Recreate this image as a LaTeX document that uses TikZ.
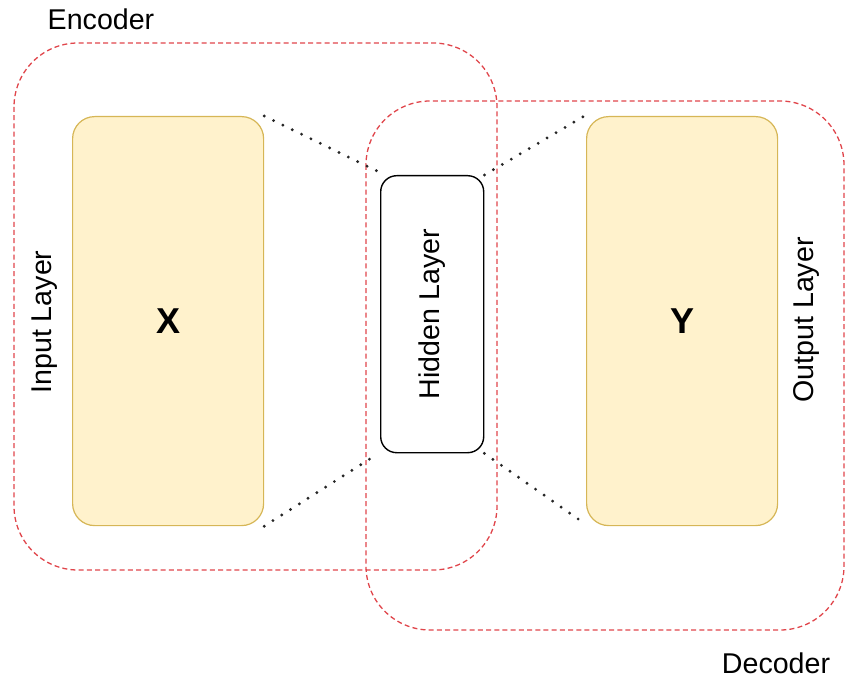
\documentclass[tikz,border=0pt]{standalone}
\usepackage{fontspec}
\setmainfont{Liberation Sans}
\begin{document}
\begin{tikzpicture}[x=0.5pt,y=-0.5pt,
  grp/.style={draw=grpred, line width=0.65pt, dash pattern=on 2.5pt off 1.6pt, rounded corners=32pt},
  layerbox/.style={draw=ystroke, fill=yfill, line width=0.6pt, rounded corners=11pt},
  hidbox/.style={draw=black, fill=white, line width=0.7pt, rounded corners=8pt},
  dotline/.style={draw=black!85, line width=1.6pt, line cap=round, dash pattern=on 0pt off 5.2pt},
  lbl/.style={font=\fontsize{14.3}{17}\selectfont, inner sep=0pt},
  big/.style={font=\fontsize{18}{21}\selectfont\bfseries, inner sep=0pt}]
\definecolor{grpred}{HTML}{E0454B}
\definecolor{yfill}{HTML}{FFF2CC}
\definecolor{ystroke}{HTML}{D6B656}
\useasboundingbox (0,0) rectangle (845,679);
% groups
\draw[grp] (14,43) rectangle (497,570);
\draw[grp] (366,101) rectangle (844,630);
% boxes
\node[layerbox, minimum width=95.5pt, minimum height=204.5pt, anchor=north west] (X) at (72,116) {};
\node[layerbox, minimum width=95.5pt, minimum height=204.5pt, anchor=north west] (Y) at (586,116) {};
\node[hidbox, minimum width=51.5pt, minimum height=138.5pt, anchor=north west] (H) at (380,175) {};
\node[big] at (X.center) {X};
\node[big] at (Y.center) {Y};
\node[lbl, rotate=90] (hl) at (H.center) {Hidden Layer};
\node[lbl, rotate=90] (il) at (45,322) {Input Layer};
\node[lbl, rotate=90] (ol) at (806,320) {Output Layer};
\node[lbl] (enc) at (101,19) {Encoder};
\node[lbl] (dec) at (776,663) {Decoder};
% dotted connectors
\coordinate (a1) at (379,172);
\coordinate (a2) at (586,115);
\coordinate (a3) at (376,455);
\coordinate (a4) at (581,521);
\draw[dotline] (X.north east) -- (a1);
\draw[dotline] (H.north east) -- (a2);
\draw[dotline] (X.south east) -- (a3);
\draw[dotline] (H.south east) -- (a4);
\end{tikzpicture}
\end{document}
